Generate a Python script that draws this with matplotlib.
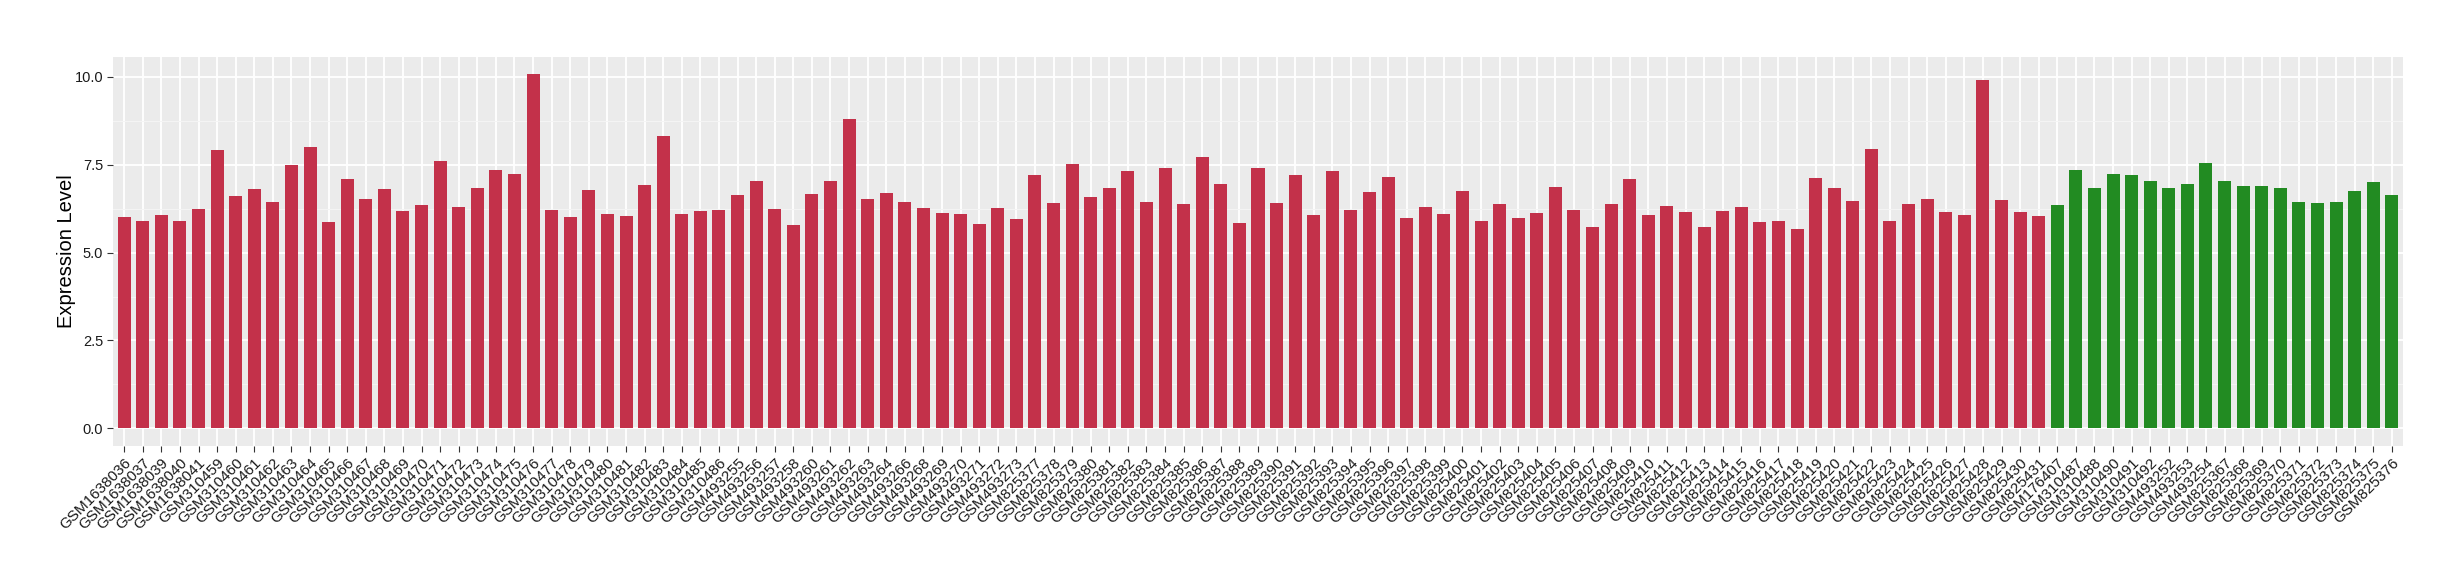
import matplotlib
matplotlib.use("Agg")
import matplotlib.pyplot as plt
from matplotlib.ticker import MultipleLocator

samples_tumor = (
    ["GSM1638036", "GSM1638037", "GSM1638039", "GSM1638040", "GSM1638041"]
    + ["GSM3104%02d" % i for i in range(59, 87)]
    + ["GSM493%d" % i for i in [255, 256, 257, 258, 260, 261, 262, 263, 264, 266, 268, 269, 270, 271, 272, 273]]
    + ["GSM825%d" % i for i in range(377, 432)]
)
samples_normal = (
    ["GSM176407", "GSM310487", "GSM310488", "GSM310490", "GSM310491", "GSM310492",
     "GSM493252", "GSM493253", "GSM493254"]
    + ["GSM825%d" % i for i in range(367, 377)]
)

values_tumor = [
    6.00, 5.89, 6.06, 5.89, 6.23, 7.91, 6.60, 6.80, 6.43, 7.48,
    7.99, 5.86, 7.08, 6.52, 6.80, 6.17, 6.34, 7.62, 6.29, 6.83,
    7.34, 7.23, 10.07, 6.20, 6.00, 6.77, 6.09, 6.03, 6.91, 8.33,
    6.09, 6.17, 6.20, 6.63, 7.05, 6.23, 5.78, 6.66, 7.05, 8.79,
    6.52, 6.69, 6.43, 6.26, 6.12, 6.09, 5.80, 6.26, 5.95, 7.20,
    6.40, 7.51, 6.57, 6.83, 7.31, 6.43, 7.42, 6.37, 7.71, 6.94,
    5.83, 7.40, 6.40, 7.20, 6.06, 7.31, 6.20, 6.71, 7.14, 5.98,
    6.29, 6.09, 6.74, 5.89, 6.37, 5.98, 6.12, 6.88, 6.20, 5.72,
    6.37, 7.08, 6.06, 6.32, 6.15, 5.72, 6.17, 6.29, 5.86, 5.89,
    5.66, 7.11, 6.83, 6.46, 7.94, 5.89, 6.37, 6.52, 6.15, 6.06,
    9.92, 6.49, 6.15, 6.03,
]
values_normal = [
    6.34, 7.34, 6.83, 7.25, 7.20, 7.05, 6.85, 6.95, 7.55, 7.03,
    6.90, 6.90, 6.85, 6.45, 6.40, 6.45, 6.75, 7.00, 6.63,
]

color_tumor = "#C3314A"
color_normal = "#228B22"

labels = samples_tumor + samples_normal
values = values_tumor + values_normal
colors = [color_tumor] * len(values_tumor) + [color_normal] * len(values_normal)
x = list(range(len(labels)))

fig = plt.figure(figsize=(24.6, 5.8), dpi=100)
ax = fig.add_axes([113 / 2460, 1 - 446 / 580, (2403 - 113) / 2460, (446 - 56.7) / 580])
ax.set_facecolor("#EBEBEB")
ax.bar(x, values, width=0.7, color=colors, zorder=3)

ax.set_xlim(-0.6, len(labels) - 1 + 0.6)
ymax = max(values)
ax.set_ylim(-0.05 * ymax, ymax * 1.05)
ax.yaxis.set_major_locator(MultipleLocator(2.5))
ax.yaxis.set_minor_locator(MultipleLocator(1.25))
ax.set_yticks([0, 2.5, 5.0, 7.5, 10.0])
ax.set_yticklabels(["0.0", "2.5", "5.0", "7.5", "10.0"])
ax.grid(which="major", axis="both", color="white", linewidth=1.3, zorder=1)
ax.grid(which="minor", axis="y", color="#F5F5F5", linewidth=0.7, zorder=1)
ax.set_axisbelow(True)
for s in ax.spines.values():
    s.set_visible(False)

ax.set_xticks(x)
ax.set_xticklabels(labels, rotation=45, ha="right", va="top", rotation_mode="anchor",
                   fontsize=11, family="Liberation Sans", color="#1A1A1A")
for t in ax.get_yticklabels():
    t.set_fontsize(10.5)
    t.set_family("Liberation Sans")
    t.set_color("#1A1A1A")
ax.tick_params(axis="both", which="major", length=4, width=0.8, color="#333333", pad=3)
ax.tick_params(axis="y", which="minor", length=0)

ax.set_ylabel("Expression Level", fontsize=14.5, family="Liberation Sans", color="black", labelpad=-1)

fig.savefig("out.png", dpi=100, facecolor="white")
